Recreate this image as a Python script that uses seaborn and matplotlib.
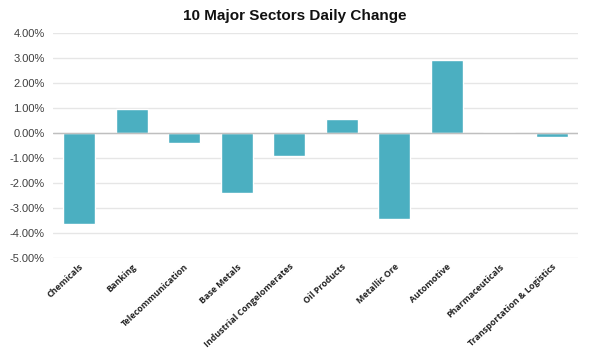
import matplotlib
matplotlib.use("Agg")
import matplotlib.pyplot as plt
import seaborn as sns
import pandas as pd
from matplotlib.ticker import FuncFormatter

sectors = ["Chemicals", "Banking", "Telecommunication", "Base Metals",
           "Industrial Congelomerates", "Oil Products", "Metallic Ore",
           "Automotive", "Pharmaceuticals", "Transportation & Logistics"]
changes = [-3.65, 0.97, -0.40, -2.38, -0.92, 0.56, -3.42, 2.92, 0.03, -0.15]
yticks = [4, 3, 2, 1, 0, -1, -2, -3, -4, -5]

df = pd.DataFrame({"sector": sectors, "change": changes})

sns.set_theme(style="white")
plt.rcParams["font.family"] = ["Liberation Sans", "DejaVu Sans"]

fig = plt.figure(figsize=(5.89, 3.57), dpi=100)
ax = fig.add_axes([53/589, 1-258/357, (578-53)/589, (258-33)/357])

sns.barplot(data=df, x="sector", y="change", color="#4BAFC1", width=0.61,
            saturation=1, ax=ax, zorder=3)

ax.set_ylim(-5, 4)
ax.set_yticks(yticks)
ax.yaxis.set_major_formatter(FuncFormatter(lambda v, p: f"{v:.2f}%"))
ax.grid(axis="y", color="#E6E6E6", linewidth=1, zorder=0)
ax.axhline(0, color="#BFBFBF", linewidth=1, zorder=4)
for s in ax.spines.values():
    s.set_visible(False)
ax.set_xlim(-0.5, len(sectors) - 0.5)
ax.set_xlabel("")
ax.set_ylabel("")
ax.tick_params(axis="y", length=0, pad=6, labelsize=8, labelcolor="#404040")
ax.tick_params(axis="x", length=0, pad=3)
for lbl in ax.get_xticklabels():
    lbl.set_rotation(43)
    lbl.set_ha("right")
    lbl.set_rotation_mode("anchor")
    lbl.set_fontsize(6.4)
    lbl.set_fontweight("bold")
    lbl.set_family(["Open Sans", "DejaVu Sans"])
    lbl.set_color("#222222")

fig.text(0.5, 1 - 16/357, "10 Major Sectors Daily Change", ha="center", va="center",
         fontsize=11, fontweight="bold", color="#111111")

fig.savefig("out.png", dpi=100)
